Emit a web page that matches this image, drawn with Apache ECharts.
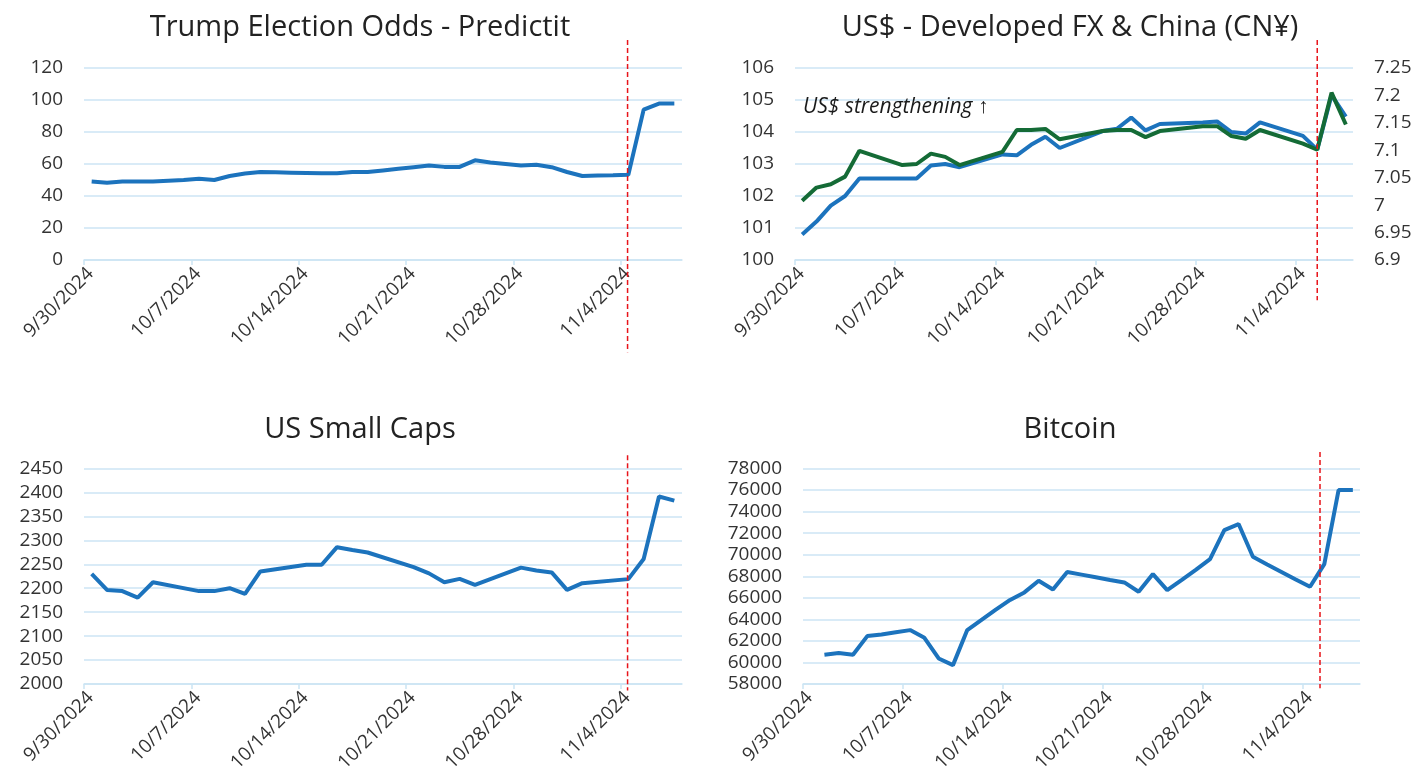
<!DOCTYPE html>
<html>
<head>
<meta charset="utf-8">
<script src="https://cdn.jsdelivr.net/npm/echarts@6/dist/echarts.min.js"></script>
<style>
  html, body { margin: 0; background: #fff; }
  #main { width: 1427px; height: 770px; }
</style>
</head>
<body>
<div id="main"></div>
<script>
// Predictit - daily, 9/30 .. 11/7
const oddsDates = ['09-30','10-01','10-02','10-03','10-04','10-05','10-06','10-07','10-08','10-09',
  '10-10','10-11','10-12','10-13','10-14','10-15','10-16','10-17','10-18','10-19','10-20','10-21',
  '10-22','10-23','10-24','10-25','10-26','10-27','10-28','10-29','10-30','10-31','11-01','11-02',
  '11-03','11-04','11-05','11-06','11-07'];
const oddsValues = [49, 48.3, 49, 49, 49, 49.5, 50, 50.8, 50, 52.5, 54, 55, 54.8, 54.6, 54.4, 54.2,
  54.2, 55, 55, 56, 57, 58, 59, 58.2, 58.2, 62.3, 61, 60, 59, 59.5, 58, 55, 52.5, 52.8, 53, 53.3,
  94, 97.8, 97.8];

// trading days (DXY, USD/CNY, Russell 2000)
const tradeDates = ['09-30','10-01','10-02','10-03','10-04','10-07','10-08','10-09','10-10','10-11',
  '10-14','10-15','10-16','10-17','10-18','10-21','10-22','10-23','10-24','10-25','10-28','10-29',
  '10-30','10-31','11-01','11-04','11-05','11-06','11-07'];
const dxyValues = [100.8, 101.2, 101.7, 102.0, 102.55, 102.55, 102.55, 102.95, 103.0, 102.9, 103.3,
  103.27, 103.6, 103.85, 103.5, 104.03, 104.1, 104.45, 104.05, 104.25, 104.3, 104.33, 104.0, 103.95,
  104.3, 103.88, 103.45, 105.15, 104.48];
const cnyValues = [7.008, 7.032, 7.038, 7.052, 7.099, 7.073, 7.075, 7.094, 7.088, 7.073, 7.097,
  7.137, 7.137, 7.139, 7.12, 7.135, 7.137, 7.137, 7.124, 7.135, 7.144, 7.144, 7.126, 7.121, 7.137,
  7.112, 7.101, 7.205, 7.147];
const smallCapValues = [2230, 2196.5, 2194, 2180.5, 2212.5, 2194, 2194, 2200, 2188, 2235, 2249, 2249,
  2285.7, 2280, 2274.6, 2244, 2231, 2212.5, 2219.5, 2207, 2243, 2237, 2233, 2196.5, 2210.5, 2219,
  2261, 2391.6, 2383];

// Bitcoin - daily, 10/1 .. 11/7
const btcDates = ['10-01','10-02','10-03','10-04','10-05','10-06','10-07','10-08','10-09','10-10',
  '10-11','10-12','10-13','10-14','10-15','10-16','10-17','10-18','10-19','10-20','10-21','10-22',
  '10-23','10-24','10-25','10-26','10-27','10-28','10-29','10-30','10-31','11-01','11-02','11-03',
  '11-04','11-05','11-06','11-07'];
const btcValues = [60712, 60867, 60712, 62445, 62600, 62800, 63002, 62290, 60371, 59752, 63002,
  63950, 64900, 65800, 66500, 67583, 66778, 68387, 68150, 67900, 67650, 67428, 66560, 68200, 66716,
  67650, 68600, 69594, 72287, 72844, 69810, 69100, 68400, 67700, 67026, 69130, 76000, 76000];

// x axis ticks (days after 9/30) and their labels
const tickDays = [0, 7, 14, 21, 28, 35];
const tickLabels = ['9/30/2024', '10/7/2024', '10/14/2024', '10/21/2024', '10/28/2024', '11/4/2024'];
// election marker, in days after 9/30, one per panel
const electionDay = [35.45, 36.5, 35.45, 36.2];

const titles = ['Trump Election Odds - Predictit', 'US$ - Developed FX & China (CN¥)', 'US Small Caps', 'Bitcoin'];

// date string -> day slot centre (days after 9/30)
const dayOf = s => {
  const [m, d] = s.split('-').map(Number);
  return (Date.UTC(2024, m - 1, d) - Date.UTC(2024, 8, 30)) / 86400000 + 0.5;
};
const pairs = (dates, vals) => dates.map((d, i) => [dayOf(d), vals[i]]);

const FONT = 'Open Sans';
const BLUE = '#1c73bd';
const GREEN = '#146b36';
const GRID_C = '#cce5f4';

const chart = echarts.init(document.getElementById('main'));

const grids = [
  { left: 84, top: 68, width: 598, height: 192, outerBoundsMode: 'none' },
  { left: 795, top: 68, width: 558, height: 192, outerBoundsMode: 'none' },
  { left: 84, top: 468.5, width: 598, height: 215.5, outerBoundsMode: 'none' },
  { left: 803, top: 468.5, width: 557, height: 215.5, outerBoundsMode: 'none' }
];

const xAxes = grids.map((g, i) => ({
  type: 'value', gridIndex: i, min: 0, max: 39, interval: 7,
  axisLine: { lineStyle: { color: GRID_C, width: 1.5 } },
  axisTick: { show: true, length: 5, lineStyle: { color: GRID_C, width: 1.5 }, customValues: tickDays },
  splitLine: { show: false },
  axisLabel: {
    customValues: tickDays,
    rotate: 45, margin: 4, verticalAlign: 'top', fontFamily: FONT, fontSize: 19, color: '#333',
    formatter: v => { const k = tickDays.indexOf(Math.round(v)); return k >= 0 ? tickLabels[k] : ''; }
  }
}));

const yBase = (gi, min, max, interval, pos, showSplit) => ({
  type: 'value', gridIndex: gi, min, max, interval, position: pos || 'left',
  axisLine: { show: false }, axisTick: { show: false },
  splitLine: { show: showSplit !== false, lineStyle: { color: GRID_C, width: 1.5 } },
  axisLabel: { fontFamily: FONT, fontSize: 19, color: '#333', margin: 21, formatter: v => String(+v.toFixed(2)) }
});

const yAxes = [
  yBase(0, 0, 120, 20),
  yBase(1, 100, 106, 1),
  yBase(1, 6.9, 7.25, 0.05, 'right', false),
  yBase(2, 2000, 2450, 50),
  yBase(3, 58000, 78000, 2000)
];

const lineSeries = (name, xi, yi, data, color, z) => ({
  name, type: 'line', xAxisIndex: xi, yAxisIndex: yi, data,
  symbol: 'none', lineStyle: { color, width: 4 }, z: z || 2
});

// red dashed election line, running a bit past the plot area
const redLine = (xi, yi, day, ax, up, down) => {
  const span = ax.max - ax.min;
  return {
    type: 'line', xAxisIndex: xi, yAxisIndex: yi, clip: false, symbol: 'none', z: 5,
    data: [[day, ax.max + span * up], [day, ax.min - span * down]],
    lineStyle: { color: '#e8141a', width: 1.5, type: [5, 3] }
  };
};

const option = {
  animation: false,
  backgroundColor: '#fff',
  title: titles.map((t, i) => ({
    text: t, left: i % 2 ? 1070 : 360, top: i < 2 ? 13 : 415, textAlign: 'center', padding: 0,
    textStyle: { fontFamily: FONT, fontSize: 29, fontWeight: 'normal', color: '#222' }
  })).concat([{
    text: 'US$ strengthening ↑', left: 803, top: 97, padding: 0,
    textStyle: { fontFamily: FONT, fontSize: 21, fontStyle: 'italic', fontWeight: 'normal', color: '#1a1a1a' }
  }]),
  grid: grids,
  xAxis: xAxes,
  yAxis: yAxes,
  series: [
    lineSeries('Predictit', 0, 0, pairs(oddsDates, oddsValues), BLUE),
    lineSeries('DXY', 1, 1, pairs(tradeDates, dxyValues), BLUE),
    lineSeries('USD/CNY', 1, 2, pairs(tradeDates, cnyValues), GREEN, 3),
    lineSeries('Russell 2000', 2, 3, pairs(tradeDates, smallCapValues), BLUE),
    lineSeries('Bitcoin', 3, 4, pairs(btcDates, btcValues), BLUE),
    redLine(0, 0, electionDay[0], yAxes[0], 0.146, 0.48),
    redLine(1, 1, electionDay[1], yAxes[1], 0.146, 0.21),
    redLine(2, 3, electionDay[2], yAxes[3], 0.062, 0.03),
    redLine(3, 4, electionDay[3], yAxes[4], 0.076, 0.02)
  ]
};

chart.setOption(option);
</script>
</body>
</html>
